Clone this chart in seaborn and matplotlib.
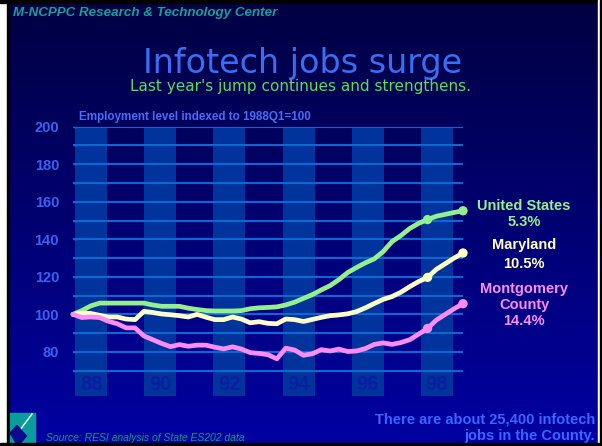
import numpy as np
import pandas as pd
import seaborn as sns
import matplotlib.pyplot as plt
from matplotlib.patches import Rectangle, Polygon

# 분기별 고용 지수 (1988Q1=100), 1988Q1 ~ 1999Q1
us = [100, 102, 104.5, 106, 106, 106, 106, 106, 106, 105,
      104.3, 104.3, 104.3, 103.3, 102.6, 102, 101.8, 101.8, 101.8, 102,
      103, 103.5, 103.7, 104, 105, 106.5, 108.5, 110.5, 113, 115.3,
      118.5, 122.3, 125, 127.5, 129.6, 133.5, 138.8, 142, 145.8, 148.5,
      150.5, 152.3, 153.3, 154.3, 155.2]
maryland = [100, 100.6, 100.5, 99.5, 98.6, 98.6, 97.5, 97.2, 101.6, 101,
            100.2, 99.8, 99.3, 98.6, 100, 98.5, 97.2, 97.2, 98.6, 97.5,
            95.5, 96.1, 95.2, 95, 97.5, 97.2, 96.2, 97.3, 98.4, 99.3,
            99.7, 100.3, 101.5, 103.5, 105.8, 108, 109.5, 111.8, 114.8, 117.5,
            119.7, 124, 127, 130, 132.7]
montgomery = [100, 98.3, 98.6, 98.3, 96.3, 95, 92.8, 92.8, 88.5, 86.5,
              84.5, 82.8, 83.9, 83, 83.6, 83.6, 82.5, 81.6, 82.7, 81.5,
              79.6, 79.2, 78.5, 76.3, 82, 81, 78.2, 79, 81.2, 80.5,
              81.5, 80.2, 80.5, 81.8, 84, 84.8, 84, 85, 86.5, 89.5,
              92.5, 97, 100, 103, 105.7]
year_labels = ["88", "90", "92", "94", "96", "98"]
marked_quarters = [40, 44]
ytick_values = [80, 100, 120, 140, 160, 180, 200]

series = {"United States": us, "Maryland": maryland, "Montgomery County": montgomery}
colors = {"United States": "#94f08c", "Maryland": "#ffffc8", "Montgomery County": "#ff8cf5"}

rows = []
for name, vals in series.items():
    for q, v in enumerate(vals):
        rows.append({"quarter": q, "index": v, "region": name})
df = pd.DataFrame(rows)

W, H = 602, 446
fig = plt.figure(figsize=(W / 100, H / 100), dpi=100)

# 배경 (픽셀 좌표)
bg = fig.add_axes([0, 0, 1, 1])
bg.set_xlim(0, W)
bg.set_ylim(H, 0)
bg.axis("off")
top_c = np.array([0, 0, 66]) / 255
bot_c = np.array([0, 0, 162]) / 255
g = np.linspace(0, 1, 256)[:, None, None]
grad = top_c + (bot_c - top_c) * g
bg.imshow(grad, extent=(9, 598, 443, 3), aspect="auto", zorder=0)
bg.add_patch(Rectangle((0, 0), 7, H, color="white", zorder=1))
bg.add_patch(Rectangle((7, 0), 2, H, color="black", zorder=1))
bg.add_patch(Rectangle((0, 0), W, 3, color="black", zorder=1))
bg.add_patch(Rectangle((598, 0), 2, H, color="white", zorder=1))
bg.add_patch(Rectangle((600, 0), 2, H, color="black", zorder=1))

# 로고
bg.add_patch(Rectangle((10, 413), 25, 30, color="#0a9c9c", zorder=2))
bg.plot([32, 20], [414, 430], color="white", lw=1, zorder=3)
bg.add_patch(Polygon([(10, 433), (17, 425.5), (26.5, 436), (18, 446)], closed=True,
                     color="#0a0a8c", zorder=3))
bg.add_patch(Rectangle((0, 443), W, 3, color="black", zorder=4))

bold = dict(family="Liberation Sans", fontweight="bold")
bg.text(13, 13, "M-NCPPC Research & Technology Center", color="#14a0a0",
        fontsize=9.6, style="italic", va="center", ha="left", **bold)
bg.text(303, 63, "Infotech jobs surge", color="#3a6ef2", fontsize=24,
        family="DejaVu Sans", ha="center", va="center")
bg.text(301, 87, "Last year's jump continues and strengthens.", color="#55e055",
        fontsize=11, family="DejaVu Sans", ha="center", va="center")
bg.text(79, 117, "Employment level indexed to 1988Q1=100", color="#4a6cf5",
        fontsize=8.4, ha="left", va="center", **bold)

labels = [("United States", 205.5, "#94f08c"), ("5.3%", 221.5, "#94f08c"),
          ("Maryland", 245.5, "#ffffc8"), ("10.5%", 263.5, "#ffffc8"),
          ("Montgomery", 289.5, "#ff8cf5"), ("County", 305, "#ff8cf5"),
          ("14.4%", 321, "#ff8cf5")]
for txt, y, c in labels:
    bg.text(524, y, txt, color=c, fontsize=10.5, ha="center", va="center", **bold)

bg.text(46, 438, "Source: RESI analysis of State ES202 data", color="#0f9a7c",
        fontsize=7.5, style="italic", family="Liberation Sans", ha="left", va="center")
bg.text(595, 419, "There are about 25,400 infotech", color="#3a66ff",
        fontsize=10.5, ha="right", va="center", **bold)
bg.text(595, 436, "jobs in the County.", color="#3a66ff",
        fontsize=10.5, ha="right", va="center", **bold)

# 차트 영역
ax = fig.add_axes([73 / W, 1 - 396 / H, 390 / W, (396 - 126.7) / H])
ax.set_facecolor("none")
ax.set_xlim(0, 44)
ax.set_ylim(56.5, 200)
for s in ax.spines.values():
    s.set_visible(False)

band_centers = [2.05 + 7.8 * i for i in range(len(year_labels))]
for c, lbl in zip(band_centers, year_labels):
    ax.axvspan(c - 1.8, c + 1.8, color="#00339c", lw=0, zorder=1)
    ax.text(c, 62.4, lbl, color="#0a1ea0", fontsize=14.5, ha="center", va="center",
            zorder=2, **bold)

for v in range(70, 201, 10):
    ax.axhline(v, color="#0a68d2", lw=1.5, zorder=2)

sns.lineplot(data=df, x="quarter", y="index", hue="region", palette=colors,
             linewidth=3.4, legend=False, ax=ax, zorder=5)
for line in ax.lines[-3:]:
    line.set_clip_on(False)
    line.set_solid_capstyle("round")
    line.set_solid_joinstyle("round")

marks = df[df["quarter"].isin(marked_quarters)]
sns.scatterplot(data=marks, x="quarter", y="index", hue="region", palette=colors,
                s=45, edgecolor="none", legend=False, ax=ax, zorder=6, clip_on=False)

ax.set_xticks([])
ax.set_yticks(ytick_values)
ax.set_yticks(range(70, 200, 10), minor=True)
ax.set_yticklabels([str(v) for v in ytick_values], color="#3a62f0", fontsize=10.5, **bold)
ax.tick_params(axis="y", which="both", length=3, width=1, color="#8a8a8a",
               direction="in", pad=10)
ax.set_xlabel("")
ax.set_ylabel("")

fig.savefig("out.png", dpi=100)
